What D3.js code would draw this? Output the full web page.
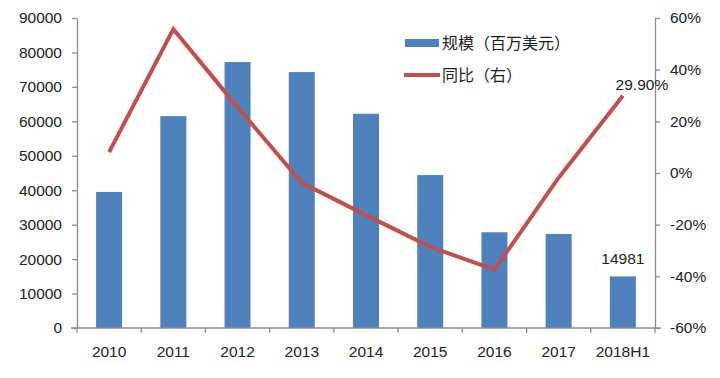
<!DOCTYPE html>
<html>
<head>
<meta charset="utf-8">
<script src="https://cdn.jsdelivr.net/npm/d3@7"></script>
<style>
    body { margin: 0; background: #fff; }
    svg text { font-family: "Liberation Sans", "Noto Sans CJK SC", sans-serif; fill: #222; }
    .axis path, .axis line { stroke: #8c8c8c; stroke-width: 1.3; }
</style>
</head>
<body>
<div id="chart"></div>
<script>
const years = ['2010', '2011', '2012', '2013', '2014', '2015', '2016', '2017', '2018H1'];
const scale = [39500, 61500, 77200, 74300, 62200, 44400, 27800, 27300, 14981]; // 百万美元
const growth = [0.081, 0.557, 0.255, -0.038, -0.163, -0.286, -0.374, -0.018, 0.299];
const leftTicks = [0, 10000, 20000, 30000, 40000, 50000, 60000, 70000, 80000, 90000];
const rightTicks = [-0.6, -0.4, -0.2, 0, 0.2, 0.4, 0.6];

const width = 720;
const height = 378;
const margin = {top: 18, right: 65, bottom: 50, left: 77};
const innerW = width - margin.left - margin.right;
const innerH = height - margin.top - margin.bottom;

const svg = d3.select('#chart').append('svg')
    .attr('width', width)
    .attr('height', height);

const g = svg.append('g')
    .attr('transform', 'translate(' + margin.left + ',' + margin.top + ')');

const xb = d3.scaleBand().domain(years).range([0, innerW]); // full category slots
const y = d3.scaleLinear().domain([0, 90000]).range([innerH, 0]);
const y2 = d3.scaleLinear().domain([-0.6, 0.6]).range([innerH, 0]);

// bars
g.selectAll('.bar')
    .data(scale)
    .enter()
.append('rect')
    .attr('class', 'bar')
    .attr('x', (d, i) => xb(years[i]) + xb.bandwidth() / 2 - 13)
    .attr('width', 26)
    .attr('y', (d) => y(d))
    .attr('height', (d) => innerH - y(d))
    .style('fill', '#4f81bd');

// axes
const axL = g.append('g')
    .attr('class', 'axis')
    .call(d3.axisLeft(y).tickValues(leftTicks).tickSize(5).tickPadding(10).tickSizeOuter(0)
        .tickFormat(d3.format('d')));
axL.selectAll('text').style('font-size', '15.5px');

const axR = g.append('g')
    .attr('class', 'axis')
    .attr('transform', 'translate(' + innerW + ',0)')
    .call(d3.axisRight(y2).tickValues(rightTicks).tickSize(5).tickPadding(10).tickSizeOuter(0)
        .tickFormat((d) => Math.round(d * 100) + '%'));
axR.selectAll('text').style('font-size', '15.5px');

const axB = g.append('g')
    .attr('class', 'axis')
    .attr('transform', 'translate(0,' + innerH + ')')
    .call(d3.axisBottom(xb).tickSize(0).tickPadding(18));
axB.select('.domain').remove();
axB.append('line')
    .attr('x1', -6).attr('x2', innerW + 6)
    .attr('y1', 0).attr('y2', 0)
    .style('stroke', '#8c8c8c').style('stroke-width', 1.3);
axB.selectAll('text').style('font-size', '15.5px');
// slot boundary ticks
axB.selectAll('.sep')
    .data(d3.range(years.length + 1))
    .enter()
.append('line')
    .attr('x1', (d) => d * xb.step())
    .attr('x2', (d) => d * xb.step())
    .attr('y1', 0).attr('y2', 5)
    .style('stroke', '#8c8c8c').style('stroke-width', 1.3);

// growth line
const line = d3.line()
    .x((d, i) => xb(years[i]) + xb.bandwidth() / 2)
    .y((d) => y2(d));

g.append('path')
    .datum(growth)
    .attr('d', line)
    .style('fill', 'none')
    .style('stroke', '#c0504d')
    .style('stroke-width', 4);

// labels
const last = years.length - 1;
g.append('text')
    .attr('x', xb(years[last]) + xb.bandwidth() / 2 + 19)
    .attr('y', y2(growth[last]) - 6)
    .attr('text-anchor', 'middle')
    .style('font-size', '15.5px')
    .text((growth[last] * 100).toFixed(2) + '%');

g.append('text')
    .attr('x', xb(years[last]) + xb.bandwidth() / 2)
    .attr('y', y(scale[last]) - 12)
    .attr('text-anchor', 'middle')
    .style('font-size', '15.5px')
    .text(scale[last]);

// legend
const legend = svg.append('g').attr('transform', 'translate(405,0)');
legend.append('rect')
    .attr('x', 0).attr('y', 39)
    .attr('width', 34).attr('height', 8)
    .style('fill', '#4f81bd');
legend.append('text')
    .attr('x', 37).attr('y', 43)
    .attr('dy', '0.35em')
    .style('font-size', '16px')
    .style('font-family', '"Noto Sans CJK SC", sans-serif')
    .text('规模（百万美元）');
legend.append('line')
    .attr('x1', -1).attr('x2', 35)
    .attr('y1', 75).attr('y2', 75)
    .style('stroke', '#c0504d')
    .style('stroke-width', 4);
legend.append('text')
    .attr('x', 37).attr('y', 75)
    .attr('dy', '0.35em')
    .style('font-size', '16px')
    .style('font-family', '"Noto Sans CJK SC", sans-serif')
    .text('同比（右）');
</script>
</body>
</html>
